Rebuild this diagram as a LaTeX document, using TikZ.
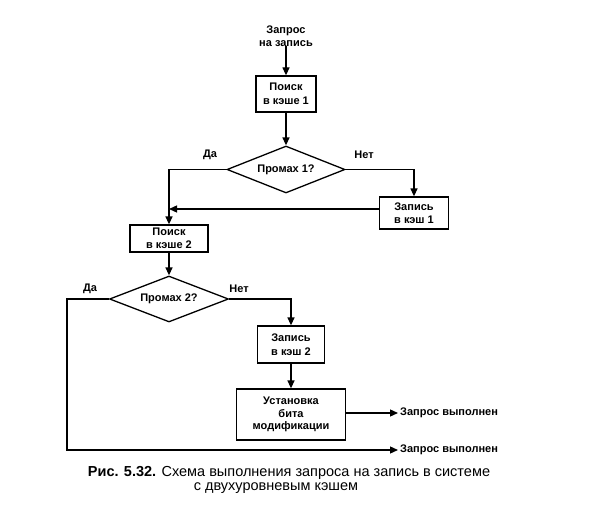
\documentclass[tikz,border=0pt]{standalone}
\usepackage{fontspec}
\setmainfont{Liberation Sans}
\usetikzlibrary{arrows.meta,shapes.geometric}
\begin{document}
\begin{tikzpicture}[x=1pt,y=-1pt,
  every node/.style={font=\fontsize{11}{11.5}\selectfont\bfseries, inner sep=0pt},
  box/.style={draw, line width=1.3pt, align=center},
  dia/.style={draw, diamond, line width=1.3pt, aspect=2.5},
  lbl/.style={font=\fontsize{11}{11.5}\selectfont\bfseries},
  flow/.style={line width=1.3pt, -{Triangle[length=8pt,width=7pt]}},
  ln/.style={line width=1.3pt}]
\useasboundingbox (0,0) rectangle (590,527);
\node[align=center] (start) at (286,36) {Запрос\\[1pt]на запись};
\node[box, minimum width=60pt, minimum height=36pt] (b1) at (286,94) {Поиск\\[2pt]в кэше 1};
\node[dia, minimum width=118pt, minimum height=47pt] (d1) at (286,169.5) {Промах 1?};
\node[box, minimum width=69pt, minimum height=32pt] (b2) at (414,213) {Запись\\[2pt]в кэш 1};
\node[box, minimum width=78pt, minimum height=27pt] (b3) at (169,238.5) {Поиск\\[1pt]в кэше 2};
\node[dia, minimum width=119pt, minimum height=46pt] (d2) at (169,299) {Промах 2?};
\node[box, minimum width=67pt, minimum height=37pt] (b4) at (291,344.5) {Запись\\[2pt]в кэш 2};
\node[box, minimum width=109pt, minimum height=51pt] (b5) at (291,414.5) {Установка\\[1pt]бита\\[1pt]модификации};
\node[anchor=west] (o1) at (400,413) {Запрос выполнен};
\node[anchor=west] (o2) at (400,450) {Запрос выполнен};
\node[lbl] (da1) at (210,155) {Да};
\node[lbl] (net1) at (364,155) {Нет};
\node[lbl] (da2) at (90,289) {Да};
\node[lbl] (net2) at (239,289) {Нет};
\coordinate (c1) at (169,169.5);
\coordinate (c2) at (67,299);
\coordinate (c3) at (67,450);
\coordinate (c4) at (169,209);
\draw[flow] (start) -- (b1);
\draw[flow] (b1) -- (d1);
\draw[flow] (d1.west) -- (c1) -- (b3.north);
\draw[flow] (d1.east) -| (b2.north);
\draw[flow] ([yshift=4pt]b2.west) -- (c4);
\draw[flow] (b3) -- (d2);
\draw[flow] (d2.east) -| (b4.north);
\draw[flow] (b4) -- (b5);
\draw[flow] (b5.east |- o1.west) -- ([xshift=-2pt]o1.west);
\draw[flow] (d2.west) -- (c2) -- (c3) -- ([xshift=-2pt]o2.west);
\node[font=\fontsize{14.5}{16}\selectfont] (cap1) at (289,473) {\textbf{Рис. 5.32.} Схема выполнения запроса на запись в системе};
\node[font=\fontsize{14.5}{16}\selectfont] (cap2) at (276,488) {с двухуровневым кэшем};
\end{tikzpicture}
\end{document}
